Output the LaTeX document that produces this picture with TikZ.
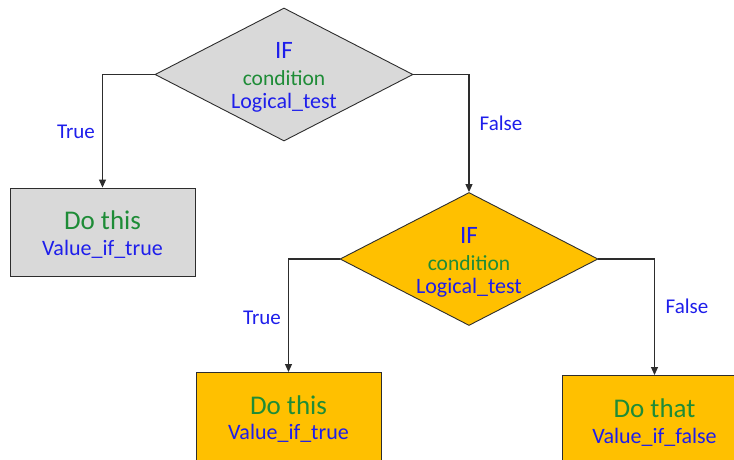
\documentclass[tikz,border=0pt]{standalone}
\usepackage{fontspec}
\setmainfont{Carlito}
\usetikzlibrary{shapes.geometric,arrows.meta}
\definecolor{txtblue}{RGB}{30,30,235}
\definecolor{txtgreen}{RGB}{30,140,55}
\definecolor{boxgray}{RGB}{217,217,217}
\definecolor{boxorange}{RGB}{255,192,0}
\definecolor{edge}{RGB}{45,45,45}
\tikzset{
  decision/.style={diamond, draw=edge, line width=0.9pt, inner sep=0pt,
    minimum width=258pt, minimum height=133pt},
  actionbox/.style={rectangle, draw=edge, line width=0.9pt, inner sep=0pt,
    minimum width=185pt},
  iftext/.style={text=txtblue, font=\fontsize{25}{27}\selectfont},
  condtext/.style={text=txtgreen, font=\fontsize{21.5}{23}\selectfont},
  testtext/.style={text=txtblue, font=\fontsize{22}{24}\selectfont},
  dotext/.style={text=txtgreen, font=\fontsize{27}{29}\selectfont},
  valtext/.style={text=txtblue, font=\fontsize{22}{24}\selectfont},
  branch/.style={text=txtblue, font=\fontsize{21}{23}\selectfont},
  flow/.style={draw=edge, line width=1.1pt, -{Triangle[length=8pt,width=7pt]}},
}
\begin{document}
\begin{tikzpicture}[x=1pt, y=-1pt]
  \useasboundingbox (0,0) rectangle (734,459);
  \fill[white] (0,0) rectangle (734,459);
  \clip (0,0) rectangle (734,459);

  % first decision
  \node[decision, fill=boxgray] (d1) at (284,74.5) {};
  \node[iftext]   (d1a) at (284,50)  {IF};
  \node[condtext] (d1b) at (284,78)  {condition};
  \node[testtext] (d1c) at (284,103) {Logical\_test};

  % true branch of the first decision
  \node[actionbox, fill=boxgray, minimum height=88pt] (b1) at (102.5,232) {};
  \node[dotext]  (b1a) at (102.5,220) {Do this};
  \node[valtext] (b1b) at (102.5,249) {Value\_if\_true};

  % second decision
  \node[decision, fill=boxorange] (d2) at (469,259) {};
  \node[iftext]   (d2a) at (469,235) {IF};
  \node[condtext] (d2b) at (469,263) {condition};
  \node[testtext] (d2c) at (469,288) {Logical\_test};

  % outcomes of the second decision
  \node[actionbox, fill=boxorange, minimum height=110pt, anchor=north] (b2) at (288.5,372) {};
  \node[dotext]  (b2a) at (288.5,405) {Do this};
  \node[valtext] (b2b) at (288.5,433) {Value\_if\_true};

  \node[actionbox, fill=boxorange, minimum height=110pt, anchor=north] (b3) at (654.5,375) {};
  \node[dotext]  (b3a) at (654.5,408) {Do that};
  \node[valtext] (b3b) at (654.5,437) {Value\_if\_false};

  % connectors
  \draw[flow] (d1.west) -| (b1.north);
  \draw[flow] (d1.east) -| (d2.north);
  \draw[flow] (d2.west) -| (b2.north);
  \draw[flow] (d2.east) -| (b3.north);

  % branch labels
  \node[branch] (t1) at (76,132)  {True};
  \node[branch] (f1) at (501,123) {False};
  \node[branch] (t2) at (262,318) {True};
  \node[branch] (f2) at (687,306) {False};
\end{tikzpicture}
\end{document}
